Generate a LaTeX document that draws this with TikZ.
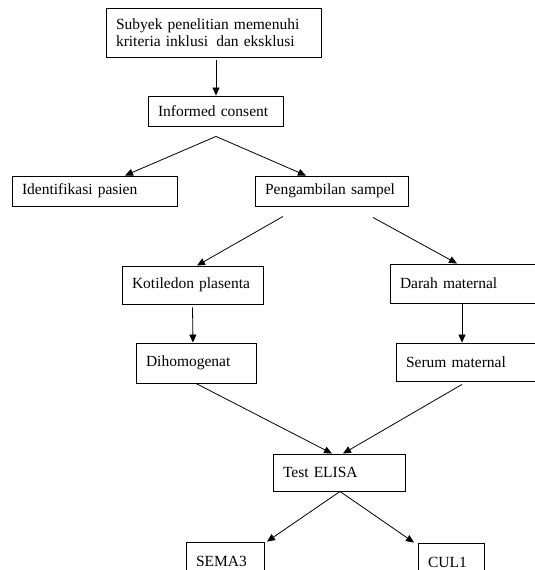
\documentclass[tikz,border=0pt]{standalone}
\usepackage{fontspec}
\setmainfont{Liberation Serif}
\usetikzlibrary{arrows.meta}

\begin{document}
\begin{tikzpicture}[x=1pt, y=-1pt, line width=0.8pt,
    box/.style={draw, line width=0.9pt, rectangle, inner xsep=10pt, align=left,
        font=\fontsize{15.5}{17}\selectfont},
    arr/.style={-{Triangle[length=8pt, width=7pt]}}]
            \useasboundingbox (0,0) rectangle (535,570);
            \clip (0,0) rectangle (535,570);
            \node[box, text width=195pt, minimum height=49pt] (subyek) at (213.5,32.5) {Subyek penelitian memenuhi\\kriteria inklusi\hspace{3pt} dan eksklusi};
            \node[box, text width=115pt, minimum height=30pt] (consent) at (215.5,111) {Informed consent};
            \node[box, text width=145pt, minimum height=30pt] (ident) at (94.5,191) {Identifikasi pasien};
            \node[box, text width=133pt, minimum height=30pt] (ambil) at (331.5,191) {Pengambilan sampel};
            \node[box, text width=121pt, minimum height=38pt] (koti) at (192.5,285) {Kotiledon plasenta};
            \node[box, text width=135pt, minimum height=39pt] (darah) at (467.5,283.5) {Darah maternal};
            \node[box, text width=100pt, minimum height=40pt] (dihomo) at (196,363) {Dihomogenat};
            \node[box, text width=134pt, minimum height=38pt] (serum) at (473,362) {Serum maternal};
            \node[box, text width=112pt, minimum height=37pt] (elisa) at (339,472.5) {Test ELISA};
            \node[box, text width=58pt, minimum height=38pt] (sema) at (225,561) {SEMA3};
            \node[box, text width=46pt, minimum height=38pt] (cul) at (451,562) {CUL1};
            % arrows
            \draw[arr] ([xshift=2.5pt, yshift=-3pt]subyek.south) -- ([xshift=0.5pt]consent.north);
            \draw[arr] ([xshift=0.5pt, yshift=-10pt]consent.south) -- ([xshift=30.5pt]ident.north);
            \draw[arr] ([xshift=0.5pt, yshift=-10pt]consent.south) -- ([xshift=-25.5pt]ambil.north);
            \draw[arr] ([xshift=-48.5pt, yshift=-10pt]ambil.south) -- ([xshift=4.5pt]koti.north);
            \draw[arr] ([xshift=41.5pt, yshift=-11pt]ambil.south) -- ([xshift=-10.5pt]darah.north);
            \draw[arr] ([yshift=-3pt]koti.south) -- ([xshift=-3pt]dihomo.north);
            \draw[arr] ([xshift=-5.5pt]darah.south) -- ([xshift=-11pt]serum.north);
            \draw[arr] (dihomo.south) -- ([xshift=-7pt]elisa.north);
            \draw[arr] ([xshift=-11pt, yshift=-3pt]serum.south) -- ([xshift=4pt]elisa.north);
            \draw[arr] ([xshift=1pt]elisa.south) -- ([xshift=42pt]sema.north);
            \draw[arr] ([xshift=1pt]elisa.south) -- ([xshift=-37pt]cul.north);
        \end{tikzpicture}
\end{document}
